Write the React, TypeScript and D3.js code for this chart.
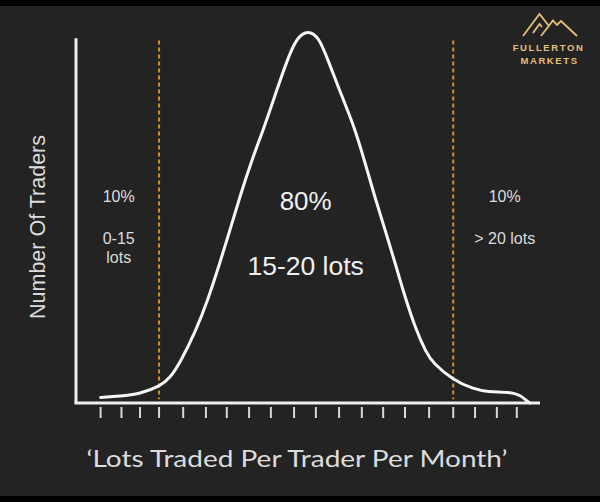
import React from "react";
import * as d3 from "d3";

// Curve: lots-traded position (0-100 scale) vs relative number of traders (0-100)
const curveX = [5.3, 9.5, 13.8, 18.1, 20.3, 22.4, 25.9, 28.4, 31.0, 33.2, 35.3, 37.9, 40.5, 42.9, 45.5, 47.6, 50.0, 52.4, 54.3, 57.2, 60.1, 62.3, 64.4, 66.6, 68.8, 70.9, 73.3, 75.4, 76.9, 81.3, 85.6, 88.6, 93.5, 95.7, 97.4, 97.8];
const curveY = [1.5, 1.8, 2.5, 4.5, 6.8, 10.8, 19.7, 27.8, 37.8, 46.8, 55.7, 65.7, 74.3, 83.2, 92.7, 98.8, 100.8, 98.8, 92.7, 83.2, 74.3, 64.9, 55.7, 46.8, 37.8, 28.6, 19.7, 13.8, 10.8, 6.2, 3.8, 3.0, 3.0, 2.2, 0.3, 0];

const tickValues = [5.3, 9.8, 13.8, 17.9, 23.1, 28.0, 32.5, 37.3, 42.0, 47.0, 51.7, 56.7, 61.6, 66.2, 70.9, 76.1, 81.3, 86.0, 90.7, 95.0];
const cutoffs = [17.9, 81.3];

const zoneShares = ["10%", "80%", "10%"];
const zoneRanges = [["0-15", "lots"], ["15-20 lots"], ["> 20 lots"]];
const zoneCenters = [9.2, 49.5, 92.4];

const yAxisTitle = "Number Of Traders";
const xAxisTitle = "\u2018Lots Traded Per Trader Per Month\u2019";
const logoLines = ["FULLERTON", "MARKETS"];

const W = 600;
const H = 502;

export default function App() {
  const x = d3.scaleLinear().domain([0, 100]).range([76, 540]);
  const y = d3.scaleLinear().domain([0, 100]).range([403, 33]);

  const pts: [number, number][] = curveX.map((v, i) => [v, curveY[i]]);
  const line = d3
    .line<[number, number]>()
    .x((d) => x(d[0]))
    .y((d) => y(d[1]))
    .curve(d3.curveBasis);

  const gold = "#e6bf78";
  const txt = "#dcdcdc";

  return (
    <svg
      width={W}
      height={H}
      style={{ position: "absolute", left: 0, top: 0, display: "block" }}
      fontFamily="'Liberation Sans', Arial, sans-serif"
    >
      <rect x={0} y={0} width={W} height={H} fill="#000" />
      <rect x={0} y={6} width={W} height={490} fill="#232323" />

      {/* cutoff dashed lines */}
      {cutoffs.map((c, i) => (
        <line
          key={i}
          x1={x(c)}
          x2={x(c)}
          y1={y(98)}
          y2={y(1)}
          stroke="#d0902f"
          strokeWidth={2}
          strokeDasharray="4 3"
        />
      ))}

      {/* axes */}
      <line x1={x(0)} x2={x(0)} y1={y(98.6)} y2={y(0)} stroke="#efefef" strokeWidth={3} />
      <line x1={x(0) - 1.5} x2={x(100)} y1={y(0)} y2={y(0)} stroke="#efefef" strokeWidth={3} />

      {/* ticks */}
      {tickValues.map((t, i) => (
        <line
          key={i}
          x1={x(t)}
          x2={x(t)}
          y1={y(0) + 4}
          y2={y(0) + 15}
          stroke="#d8d8d8"
          strokeWidth={2}
        />
      ))}

      {/* curve */}
      <path d={line(pts) || ""} fill="none" stroke="#f6f6f6" strokeWidth={3} strokeLinecap="round" />

      {/* zone labels */}
      <text x={x(zoneCenters[0])} y={202} fill={txt} fontSize={16} textAnchor="middle">{zoneShares[0]}</text>
      <text x={x(zoneCenters[0])} y={244} fill={txt} fontSize={16} textAnchor="middle">{zoneRanges[0][0]}</text>
      <text x={x(zoneCenters[0])} y={263} fill={txt} fontSize={16} textAnchor="middle">{zoneRanges[0][1]}</text>

      <text x={x(zoneCenters[1])} y={210} fill="#f0f0f0" fontSize={26} textAnchor="middle">{zoneShares[1]}</text>
      <text x={x(zoneCenters[1])} y={275} fill="#f0f0f0" fontSize={26.5} textAnchor="middle">{zoneRanges[1][0]}</text>

      <text x={x(zoneCenters[2])} y={202} fill={txt} fontSize={16} textAnchor="middle">{zoneShares[2]}</text>
      <text x={x(zoneCenters[2])} y={244} fill={txt} fontSize={16} textAnchor="middle">{zoneRanges[2][0]}</text>

      {/* axis titles */}
      <text
        transform={`translate(45,227) rotate(-90)`}
        fill={txt}
        fontSize={21.5}
        textAnchor="middle"
      >
        {yAxisTitle}
      </text>
      <text
        x={297}
        y={467}
        fill={txt}
        fontSize={24}
        fontFamily="Lato, 'Noto Sans', sans-serif"
        textAnchor="middle"
        textLength={421}
        lengthAdjust="spacingAndGlyphs"
      >
        {xAxisTitle}
      </text>

      {/* logo */}
      <g stroke={gold} strokeWidth={1.8} fill="none" strokeLinejoin="miter">
        <polyline points="523,36 539.5,14 549,26" />
        <polyline points="541,36 553,20.5 557,25 561,21 577,36" />
        <polyline points="533,33 539.5,24 542,27" />
      </g>
      <text x={548.5} y={51} fill={gold} fontSize={9.5} fontWeight="bold" textAnchor="middle" letterSpacing={1.6}>
        {logoLines[0]}
      </text>
      <text x={549.5} y={64} fill={gold} fontSize={9.5} fontWeight="bold" textAnchor="middle" letterSpacing={1.6}>
        {logoLines[1]}
      </text>
    </svg>
  );
}
